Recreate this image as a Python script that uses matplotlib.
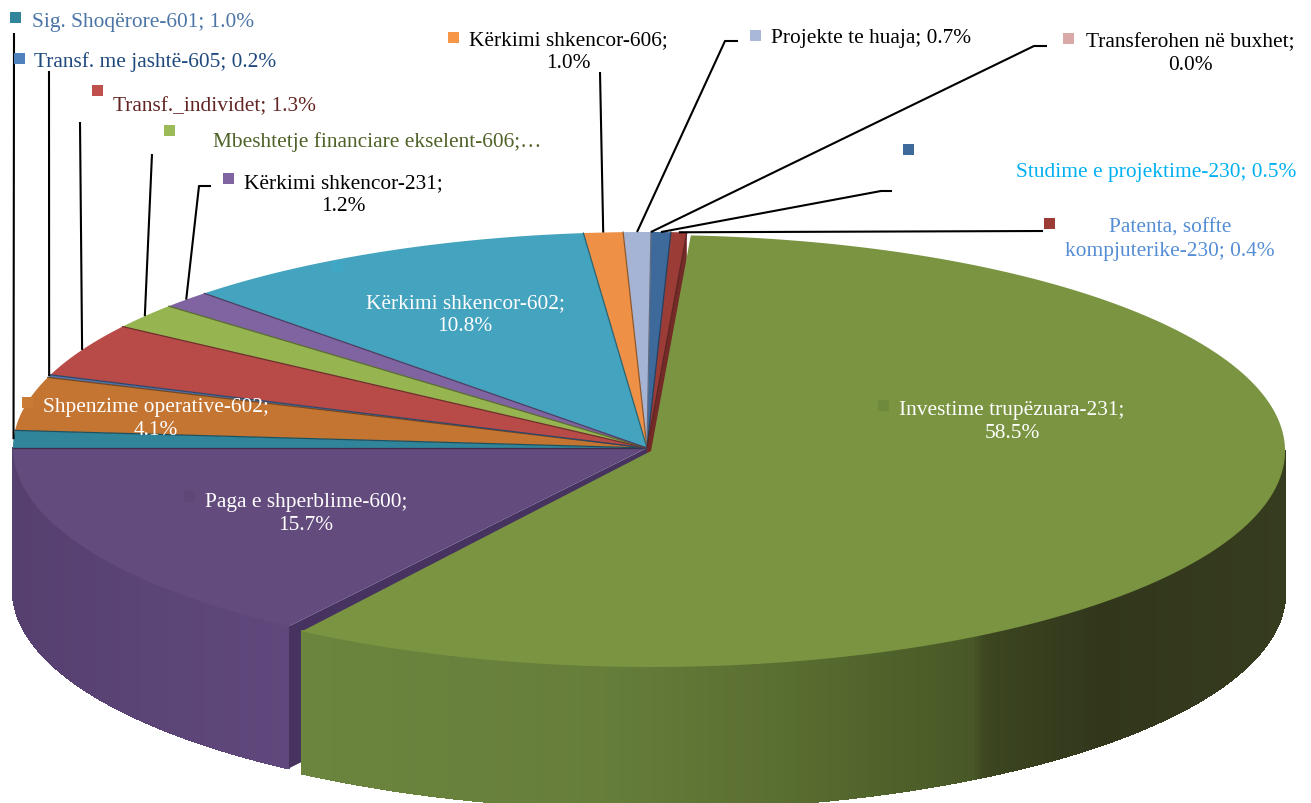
import numpy as np
import matplotlib
matplotlib.use('Agg')
from matplotlib import pyplot as plt
from matplotlib.patches import Polygon, Rectangle
from matplotlib.collections import PolyCollection

plt.rcParams['font.family'] = ['Liberation Serif', 'DejaVu Serif']

# clockwise from the green slice; shares are what the drawn slices measure
names = ['Investime trupëzuara-231', 'Paga e shperblime-600', 'Sig. Shoqërore-601',
         'Shpenzime operative-602', 'Transf. me jashtë-605', 'Transf._individet',
         'Mbeshtetje financiare ekselent-606', 'Kërkimi shkencor-231', 'Kërkimi shkencor-602',
         'Kërkimi shkencor-606', 'Projekte te huaja', 'Transferohen në buxhet',
         'Studime e projektime-230', 'Patenta, soffte kompjuterike-230']
shares = [58.4, 15.6, 1.3, 4.0, 0.2, 4.0, 1.9, 1.3, 10.7, 1.0, 0.7, 0.0, 0.5, 0.4]
slice_colors = ['#7a9442', '#644b7d', '#31859b', '#c47532', '#4f74ad', '#b84b48',
                '#96b450', '#8064a2', '#44a3be', '#ee9146', '#a5b4d4', '#d9a9a8',
                '#3e699b', '#9b3c37']
marker_colors = ['#6f8a3c', '#5f4878', '#31859b', '#c97a35', '#4f81bd', '#c0504d',
                 '#9bbb59', '#8064a2', '#3fa6c4', '#f79646', '#a9b8d8', '#d9a9a8',
                 '#3e699b', '#9b3c37']
label_texts = ['Investime trupëzuara-231;\n58.5%', 'Paga e shperblime-600;\n15.7%',
               'Sig. Shoqërore-601; 1.0%', 'Shpenzime operative-602;\n4.1%',
               'Transf. me jashtë-605; 0.2%', 'Transf._individet; 1.3%',
               'Mbeshtetje financiare ekselent-606;…', 'Kërkimi shkencor-231;\n1.2%',
               'Kërkimi shkencor-602;\n10.8%', 'Kërkimi shkencor-606;\n1.0%',
               'Projekte te huaja; 0.7%', 'Transferohen në buxhet;\n0.0%',
               'Studime e projektime-230; 0.5%', 'Patenta, soffte\nkompjuterike-230; 0.4%']
label_colors = ['white', 'white', '#4a75a6', 'white', '#1f497d', '#632523', '#4f6228',
                'black', 'white', 'black', 'black', 'black', '#00b0f0', '#558ed5']

# layout, in image pixels
CX, CY, RX, RY = 647, 449, 634, 216
DEPTH = 142
START = 3.6
GREEN_SHIFT = (4, 3)
GREEN_PAD = 0.43
PURPLE_PAD = 0.54
label_pos = [(1012, 422, 'center'), (306, 514, 'center'), (32, 22, 'left'), (156, 419, 'center'),
             (34, 62, 'left'), (113, 107, 'left'), (213, 142, 'left'), (343, 195, 'center'),
             (465, 315, 'center'), (568, 52, 'center'), (771, 39, 'left'), (1190, 54, 'center'),
             (1016, 172, 'left'), (1170, 240, 'center')]
marker_pos = [(883, 406), (189, 497), (15, 18), (27, 403), (19, 59), (97, 91), (169, 131),
              (228, 179), (337, 267), (453, 38), (755, 36), (1068, 39), (908, 150), (1049, 224)]
# leader line start and elbow, the end is worked out on the rim
leaders = {2: [(14, 34)], 4: [(49, 72)], 5: [(80, 123)], 6: [(152, 155)],
           7: [(211, 187), (199, 187)], 9: [(600, 73)], 10: [(738, 42), (725, 42)],
           11: [(1047, 47), (1034, 47)], 12: [(892, 192), (881, 192)], 13: [(1043, 232)]}


def rim(theta, dx=0, dy=0):
	t = np.radians(theta)
	return np.column_stack([CX + dx + RX * np.sin(t), CY + dy - RY * np.cos(t)])


def wedge(a, b, dx=0, dy=0):
	pts = rim(np.linspace(a, b, max(int(b - a) * 4, 3)), dx, dy)
	return np.vstack([[CX + dx, CY + dy], pts])


def wall(ax, a, b, stops_x, stops_c, dx=0, dy=0):
	th = np.linspace(a, b, 500)
	p = rim(th, dx, dy)
	quads = []
	cols = []
	for i in range(len(th) - 1):
		quads.append([p[i], p[i + 1], p[i + 1] + [0, DEPTH], p[i] + [0, DEPTH]])
		xm = (p[i][0] + p[i + 1][0]) / 2
		cols.append([np.interp(xm, stops_x, [c[k] for c in stops_c]) / 255 for k in range(3)])
	ax.add_collection(PolyCollection(quads, facecolors=cols, edgecolors=cols, linewidths=1.0, antialiaseds=False))


fig = plt.figure(figsize=(13.11, 8.04), dpi=100)
ax = fig.add_axes([0, 0, 1, 1])
ax.set_xlim(0, 1311)
ax.set_ylim(804, 0)
ax.axis('off')

total = sum(shares)
spans = [s / total * 360 for s in shares]
edges = START + np.concatenate([[0], np.cumsum(spans)])
purple_start = edges[1] + PURPLE_PAD
green_end = edges[1] - GREEN_PAD

# purple wall and the dark cut faces that show in the gaps around the green slice
wall(ax, purple_start, 270, [13, 290], [(86, 64, 112), (96, 72, 124)])
corner = rim(purple_start)[0]
ax.add_patch(Polygon([(CX, CY), corner, corner + [0, DEPTH], (CX, CY + DEPTH)], fc='#46335f', ec='none'))
red_end = rim(edges[0] + 360)[0]
ax.add_patch(Polygon([(CX, CY), red_end, red_end + [0, DEPTH], (CX, CY + DEPTH)], fc='#742a27', ec='none'))

# green wall
wall(ax, 90, green_end, [300, 600, 800, 972, 984, 1100, 1285],
     [(107, 133, 62), (102, 126, 58), (88, 108, 48), (72, 88, 38), (60, 70, 32), (50, 55, 28), (54, 60, 30)],
     *GREEN_SHIFT)

# top faces, the dark seam runs along the radial edges only
for i in range(1, len(shares)):
	if shares[i] == 0:
		continue
	a = purple_start if i == 1 else edges[i]
	ax.add_patch(Polygon(wedge(a, edges[i + 1]), fc=slice_colors[i], ec='none'))
for i in range(1, len(shares)):
	if shares[i] == 0:
		continue
	dark = [c * 0.6 for c in matplotlib.colors.to_rgb(slice_colors[i])]
	end = rim(edges[i + 1])[0]
	ax.plot([CX, end[0]], [CY, end[1]], color=dark, lw=0.9)
ax.add_patch(Polygon(wedge(edges[0], green_end, *GREEN_SHIFT), fc=slice_colors[0], ec='none'))

# leaders
for i, pts in leaders.items():
	end = rim((edges[i] + edges[i + 1]) / 2)[0]
	xs = [p[0] for p in pts] + [end[0]]
	ys = [p[1] for p in pts] + [end[1]]
	ax.plot(xs, ys, color='black', lw=1.5, solid_capstyle='butt', zorder=5)

# labels with their legend keys
for i in range(len(names)):
	mx, my = marker_pos[i]
	ax.add_patch(Rectangle((mx - 5.5, my - 5.5), 11, 11, fc=marker_colors[i], ec='none', zorder=6))
	x, y, ha = label_pos[i]
	ax.text(x, y, label_texts[i], color=label_colors[i], fontsize=15.4, ha=ha, va='center',
	        multialignment='center', linespacing=1.3, zorder=7)

fig.savefig('out.png', dpi=100)
